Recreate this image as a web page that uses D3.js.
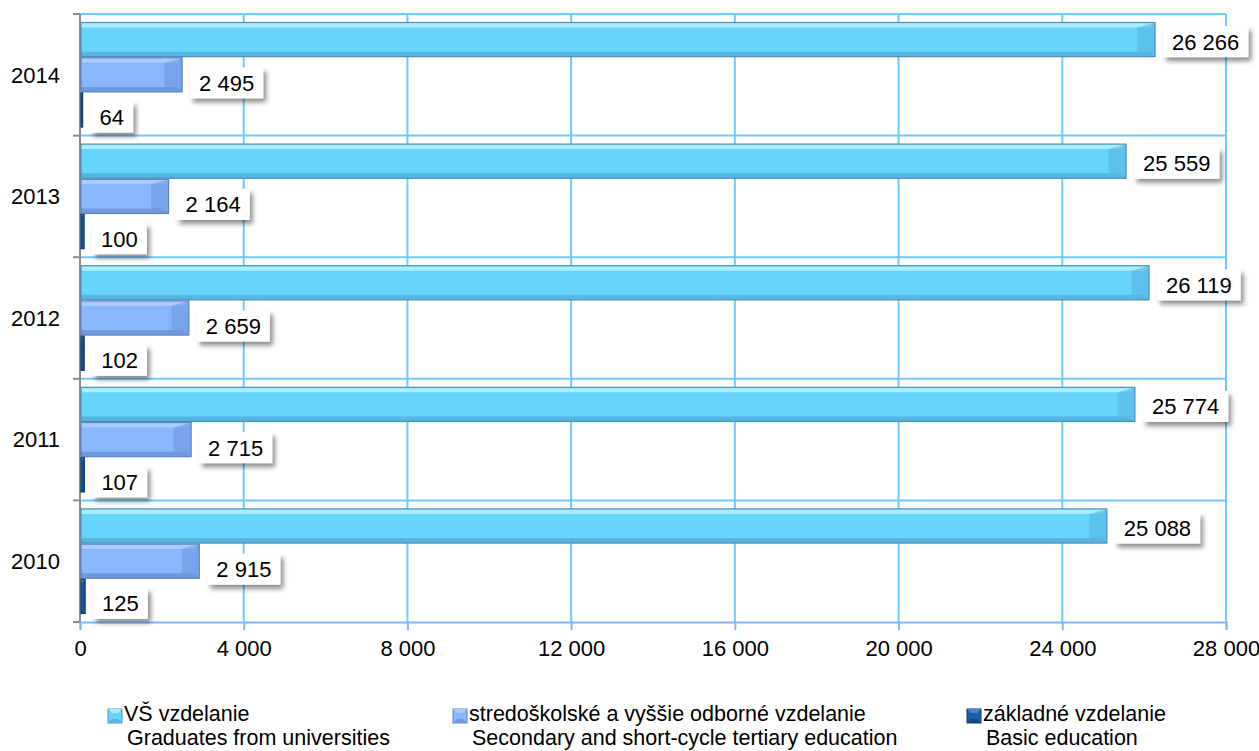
<!DOCTYPE html>
<html>
<head>
<meta charset="utf-8">
<script src="https://cdn.jsdelivr.net/npm/d3@7"></script>
<style>
  body { margin: 0; background: #fff; }
  svg text { font-family: "Liberation Sans", Arial, sans-serif; }
</style>
</head>
<body>
<div class="canvas"></div>
<script>
// data
const years = ['2014', '2013', '2012', '2011', '2010'];
const seriesKeys = ['vs', 'sos', 'zs'];
const vsValues = [26266, 25559, 26119, 25774, 25088];
const sosValues = [2495, 2164, 2659, 2715, 2915];
const zsValues = [64, 100, 102, 107, 125];
const xTicks = [0, 4000, 8000, 12000, 16000, 20000, 24000, 28000];
const legendSk = ['VŠ vzdelanie', 'stredoškolské a vyššie odborné vzdelanie', 'základné vzdelanie'];
const legendEn = ['Graduates from universities', 'Secondary and short-cycle tertiary education', 'Basic education'];

const data = years.map((y, i) => ({year: y, vs: vsValues[i], sos: sosValues[i], zs: zsValues[i]}));

// styles per series
const fills = {vs: '#66d4fd', sos: '#88b6ff', zs: '#1b5da6'};
const lights = {vs: '#a8eeff', sos: '#a9cbff', zs: '#3f85cf'};
const darks = {vs: '#55b6e0', sos: '#6f98de', zs: '#124780'};
const strokes = {vs: '#4d8fb6', sos: '#5d84c2', zs: '#0f3d70'};
const labelDy = {vs: 2, sos: 8, zs: 7};
const fontSize = 22;

const width = 1259, height = 751;
const margin = {top: 14, left: 80, right: 33, bottom: 129};
const graphWidth = width - margin.left - margin.right;
const graphHeight = height - margin.top - margin.bottom;

const svg = d3.select('.canvas')
  .append('svg')
    .attr('width', width)
    .attr('height', height);

const defs = svg.append('defs');
const filter = defs.append('filter').attr('id', 'shadow')
  .attr('x', '-20%').attr('y', '-30%').attr('width', '150%').attr('height', '180%');
filter.append('feDropShadow')
  .attr('dx', 3).attr('dy', 4).attr('stdDeviation', 2.5)
  .attr('flood-color', '#000').attr('flood-opacity', 0.45);

const graph = svg.append('g')
  .attr('transform', `translate(${margin.left}, ${margin.top})`);

// scales
const x = d3.scaleLinear().domain([0, 28000]).range([0, graphWidth]);
const y = d3.scaleBand().domain(years).range([0, graphHeight])
  .paddingInner(0.14).paddingOuter(0.07);
const ySub = d3.scaleBand().domain(seriesKeys).range([0, y.bandwidth()])
  .paddingInner(0.03);

// gridlines
graph.append('g')
  .selectAll('line.v')
  .data(xTicks.slice(1))
  .enter().append('line')
    .attr('x1', d => x(d)).attr('x2', d => x(d))
    .attr('y1', 0).attr('y2', graphHeight)
    .attr('stroke', '#6fcaff').attr('stroke-width', 2);

const bandStep = graphHeight / years.length;
graph.append('g')
  .selectAll('line.h')
  .data(d3.range(years.length))
  .enter().append('line')
    .attr('x1', 0).attr('x2', graphWidth)
    .attr('y1', d => d * bandStep).attr('y2', d => d * bandStep)
    .attr('stroke', '#6fcaff').attr('stroke-width', 2);

// x axis
const xAxis = d3.axisBottom(x).tickValues(xTicks).tickSize(8).tickPadding(10)
  .tickFormat(d => d3.format(',')(d).replace(/,/g, ' '));
const xAxisGroup = graph.append('g')
  .attr('transform', `translate(0, ${graphHeight})`)
  .call(xAxis);
xAxisGroup.select('.domain').attr('stroke', '#7fb8ff').attr('stroke-width', 2);
xAxisGroup.selectAll('.tick line').attr('stroke', '#7fb8ff').attr('stroke-width', 2);
xAxisGroup.selectAll('text').attr('font-size', fontSize).attr('fill', '#000');

// y axis (ticks at band boundaries)
const yAxisGroup = graph.append('g');
yAxisGroup.append('line')
  .attr('x1', 0).attr('x2', 0).attr('y1', 0).attr('y2', graphHeight)
  .attr('stroke', '#8c8c8c').attr('stroke-width', 2);
yAxisGroup.selectAll('line.tk')
  .data(d3.range(years.length + 1))
  .enter().append('line')
    .attr('x1', -7).attr('x2', 0)
    .attr('y1', d => d * bandStep).attr('y2', d => d * bandStep)
    .attr('stroke', '#8c8c8c').attr('stroke-width', 2);
yAxisGroup.selectAll('text')
  .data(years)
  .enter().append('text')
    .attr('x', -20)
    .attr('y', d => y(d) + y.bandwidth() / 2)
    .attr('dy', '0.35em')
    .attr('text-anchor', 'end')
    .attr('font-size', fontSize)
    .text(d => d);

// bars with a bevel look
const groups = graph.selectAll('g.year')
  .data(data)
  .enter().append('g')
    .attr('transform', d => `translate(0, ${y(d.year)})`);

seriesKeys.forEach(key => {
  const h = ySub.bandwidth();
  const by = ySub(key);
  const bev = Math.min(5, h * 0.15);

  groups.append('rect')
    .attr('x', 1).attr('y', by)
    .attr('width', d => Math.max(x(d[key]) - 1, 0)).attr('height', h)
    .attr('fill', fills[key]);

  // top highlight
  groups.append('polygon')
    .attr('points', d => {
      const w = x(d[key]);
      const b = Math.min(bev, w / 2);
      return `1,${by} ${w},${by} ${w - b},${by + b} 1,${by + b}`;
    })
    .attr('fill', lights[key]);

  // bottom shade
  groups.append('polygon')
    .attr('points', d => {
      const w = x(d[key]);
      const b = Math.min(bev, w / 2);
      return `1,${by + h} ${w},${by + h} ${w - b},${by + h - b} 1,${by + h - b}`;
    })
    .attr('fill', darks[key]);

  // right end bevel
  groups.append('polygon')
    .attr('points', d => {
      const w = x(d[key]);
      const b = Math.min(bev * 3.5, w / 2);
      return `${w},${by} ${w},${by + h} ${w - b},${by + h - bev} ${w - b},${by + bev}`;
    })
    .attr('fill', darks[key]).attr('opacity', 0.6);

  groups.append('rect')
    .attr('x', 1).attr('y', by)
    .attr('width', d => Math.max(x(d[key]) - 1, 0)).attr('height', h)
    .attr('fill', 'none')
    .attr('stroke', strokes[key]).attr('stroke-width', 1.2);

  // value labels in white boxes
  const lab = groups.append('g')
    .attr('transform', d => `translate(${x(d[key]) + 8}, ${by + h / 2 + labelDy[key]})`);
  lab.append('text')
    .attr('x', 9).attr('dy', '0.36em')
    .attr('font-size', fontSize)
    .text(d => d3.format(',')(d[key]).replace(/,/g, ' '));
  lab.each(function() {
    const g = d3.select(this);
    const bb = g.select('text').node().getBBox();
    g.insert('rect', 'text')
      .attr('x', 0).attr('y', -15.5)
      .attr('width', bb.width + 18).attr('height', 31)
      .attr('fill', '#fff')
      .attr('filter', 'url(#shadow)');
  });
});

// legend: two lines per entry
const legendX = [108, 453, 967];
const legend = svg.append('g');
seriesKeys.forEach((key, i) => {
  const g = legend.append('g').attr('transform', `translate(${legendX[i]}, 709)`);
  g.append('rect').attr('width', 14).attr('height', 14).attr('fill', fills[key])
    .attr('stroke', strokes[key]).attr('stroke-width', 1);
  g.append('polygon').attr('points', '0,0 14,0 10,4 4,4').attr('fill', lights[key]);
  g.append('polygon').attr('points', '0,14 14,14 10,10 4,10').attr('fill', darks[key]);
  g.append('text').attr('x', 16).attr('y', 12).attr('font-size', 21.5).text(legendSk[i]);
  g.append('text').attr('x', 19).attr('y', 36).attr('font-size', 21.5).text(legendEn[i]);
});
</script>
</body>
</html>
